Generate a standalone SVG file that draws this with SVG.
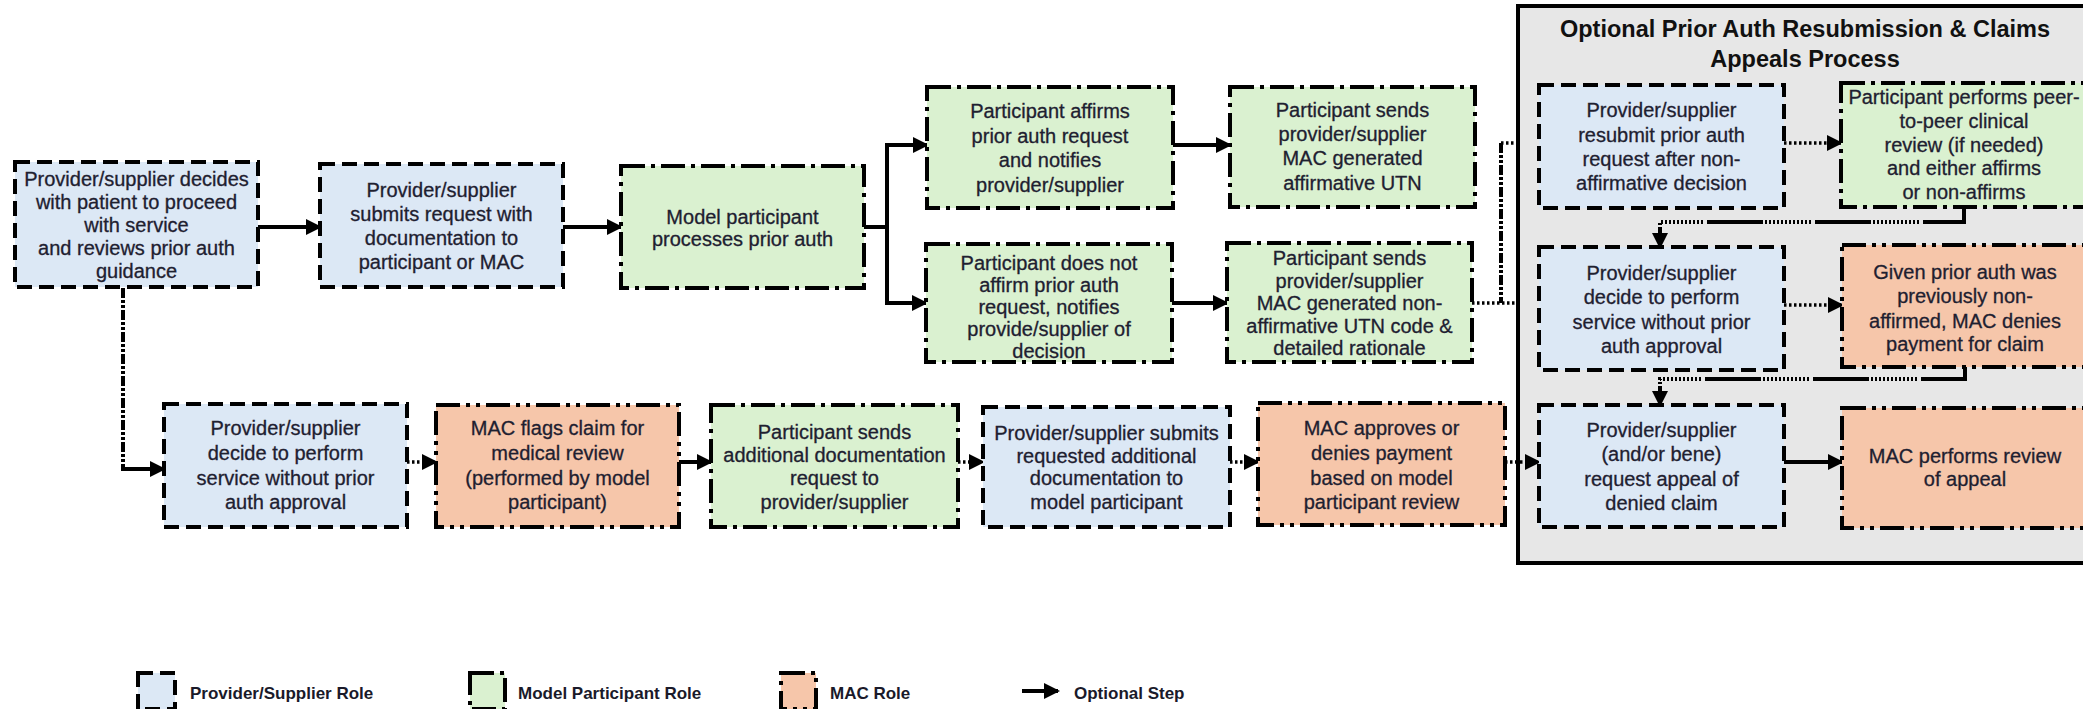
<svg xmlns="http://www.w3.org/2000/svg" width="2083" height="709" viewBox="0 0 2083 709">
<style>
.t{font-family:"Liberation Sans",Arial,sans-serif;font-size:20px;fill:#1e2030;stroke:#1e2030;stroke-width:0.3;text-anchor:middle}
.ttl{font-family:"Liberation Sans",Arial,sans-serif;font-size:23.5px;font-weight:bold;fill:#111;text-anchor:middle}
.lg{font-family:"Liberation Sans",Arial,sans-serif;font-size:17px;font-weight:bold;fill:#1a1a2a}
.pv{fill:#dce8f5;stroke:#000;stroke-width:4;stroke-dasharray:15 7}
.mp{fill:#daf1d0;stroke:#000;stroke-width:4;stroke-dasharray:24 6 4 6}
.mac{fill:#f6c6aa;stroke:#000;stroke-width:4;stroke-dasharray:24 6 4 6 4 6}
.solid{fill:none;stroke:#000;stroke-width:4}
.dot{fill:none;stroke:#000;stroke-width:3.5;stroke-dasharray:2.5 2.5}
.comp{fill:none;stroke:#000;stroke-width:4;stroke-dasharray:2 2 2 2 2 2 2 2 2 2 2 2 2 2 2 2 2 2 2 2 2 2 2 2 56 4;stroke-dashoffset:48}
.vdd{fill:none;stroke:#000;stroke-width:4;stroke-dasharray:10 2 3 2 3 2}
</style>
<defs>
<marker id="ah" markerUnits="userSpaceOnUse" markerWidth="16" markerHeight="16" refX="14" refY="8" orient="auto">
<path d="M0,0 L16,8 L0,16 z" fill="#000" stroke="none"/>
</marker>
</defs>

<g id="appeals-box">
<rect x="1518" y="6" width="590" height="557" fill="#e7e7e7" stroke="#000" stroke-width="4"/>
<text class="ttl" x="1805" y="37">Optional Prior Auth Resubmission &amp; Claims</text>
<text class="ttl" x="1805" y="67">Appeals Process</text>
</g>

<g id="connectors">
<path class="solid" d="M258,227 H320" marker-end="url(#ah)"/>
<path class="solid" d="M563,227 H621" marker-end="url(#ah)"/>
<path class="solid" d="M864,227 H887 V145 H927" marker-end="url(#ah)"/>
<path class="solid" d="M887,227 V303 H926" marker-end="url(#ah)"/>
<path class="solid" d="M1173,145 H1230" marker-end="url(#ah)"/>
<path class="solid" d="M1172,303 H1227" marker-end="url(#ah)"/>
<path class="dot" d="M1472,303 H1518"/>
<path class="vdd" d="M1501,143 V303"/>
<path class="dot" d="M1501,143 H1518"/>
<path class="dot" d="M1784,143 H1841" marker-end="url(#ah)"/>
<path class="comp" d="M1964,207 V222 H1660 V247" marker-end="url(#ah)"/>
<path class="dot" d="M1784,305 H1842" marker-end="url(#ah)"/>
<path class="comp" d="M1965,367 V379 H1660 V405" marker-end="url(#ah)"/>
<path class="solid" d="M1784,462 H1842" marker-end="url(#ah)"/>
<path class="vdd" d="M123,288 V469"/>
<path class="solid" d="M121,469 H164" marker-end="url(#ah)"/>
<path class="dot" d="M407,462 H436" marker-end="url(#ah)"/>
<path class="solid" d="M679,462 H711" marker-end="url(#ah)"/>
<path class="dot" d="M958,462 H983" marker-end="url(#ah)"/>
<path class="dot" d="M1230,462 H1258" marker-end="url(#ah)"/>
<path class="dot" d="M1505,462 H1539" marker-end="url(#ah)"/>
</g>

<g id="node-a"><rect class="pv" x="15" y="162" width="243" height="125"/>
<text class="t"><tspan x="136.5" y="186">Provider/supplier decides</tspan><tspan x="136.5" y="209">with patient to proceed</tspan><tspan x="136.5" y="232">with service</tspan><tspan x="136.5" y="255">and reviews prior auth</tspan><tspan x="136.5" y="278">guidance</tspan></text></g>

<g id="node-b"><rect class="pv" x="320" y="164" width="243" height="123"/>
<text class="t"><tspan x="441.5" y="197">Provider/supplier</tspan><tspan x="441.5" y="221">submits request with</tspan><tspan x="441.5" y="245">documentation to</tspan><tspan x="441.5" y="269">participant or MAC</tspan></text></g>

<g id="node-c"><rect class="mp" x="621" y="166" width="243" height="122"/>
<text class="t"><tspan x="742.5" y="224">Model participant</tspan><tspan x="742.5" y="246">processes prior auth</tspan></text></g>

<g id="node-d"><rect class="mp" x="927" y="87" width="246" height="121"/>
<text class="t"><tspan x="1050" y="118">Participant affirms</tspan><tspan x="1050" y="143">prior auth request</tspan><tspan x="1050" y="167">and notifies</tspan><tspan x="1050" y="192">provider/supplier</tspan></text></g>

<g id="node-e"><rect class="mp" x="926" y="244" width="246" height="118"/>
<text class="t"><tspan x="1049" y="270">Participant does not</tspan><tspan x="1049" y="292">affirm prior auth</tspan><tspan x="1049" y="314">request, notifies</tspan><tspan x="1049" y="336">provide/supplier of</tspan><tspan x="1049" y="358">decision</tspan></text></g>

<g id="node-f"><rect class="mp" x="1230" y="87" width="245" height="120"/>
<text class="t"><tspan x="1352.5" y="117">Participant sends</tspan><tspan x="1352.5" y="141">provider/supplier</tspan><tspan x="1352.5" y="165">MAC generated</tspan><tspan x="1352.5" y="190">affirmative UTN</tspan></text></g>

<g id="node-g"><rect class="mp" x="1227" y="243" width="245" height="119"/>
<text class="t"><tspan x="1349.5" y="265">Participant sends</tspan><tspan x="1349.5" y="288">provider/supplier</tspan><tspan x="1349.5" y="310">MAC generated non-</tspan><tspan x="1349.5" y="333">affirmative UTN code &amp;</tspan><tspan x="1349.5" y="355">detailed rationale</tspan></text></g>

<g id="node-h"><rect class="pv" x="1539" y="85" width="245" height="123"/>
<text class="t"><tspan x="1661.5" y="117">Provider/supplier</tspan><tspan x="1661.5" y="142">resubmit prior auth</tspan><tspan x="1661.5" y="166">request after non-</tspan><tspan x="1661.5" y="190">affirmative decision</tspan></text></g>

<g id="node-i"><rect class="mp" x="1841" y="83" width="246" height="124"/>
<text class="t"><tspan x="1964" y="104">Participant performs peer-</tspan><tspan x="1964" y="128">to-peer clinical</tspan><tspan x="1964" y="152">review (if needed)</tspan><tspan x="1964" y="175">and either affirms</tspan><tspan x="1964" y="199">or non-affirms</tspan></text></g>

<g id="node-j"><rect class="pv" x="1539" y="247" width="245" height="123"/>
<text class="t"><tspan x="1661.5" y="280">Provider/supplier</tspan><tspan x="1661.5" y="304">decide to perform</tspan><tspan x="1661.5" y="329">service without prior</tspan><tspan x="1661.5" y="353">auth approval</tspan></text></g>

<g id="node-k"><rect class="mac" x="1842" y="245" width="246" height="122"/>
<text class="t"><tspan x="1965" y="279">Given prior auth was</tspan><tspan x="1965" y="303">previously non-</tspan><tspan x="1965" y="328">affirmed, MAC denies</tspan><tspan x="1965" y="351">payment for claim</tspan></text></g>

<g id="node-l"><rect class="pv" x="1539" y="405" width="245" height="122"/>
<text class="t"><tspan x="1661.5" y="437">Provider/supplier</tspan><tspan x="1661.5" y="461">(and/or bene)</tspan><tspan x="1661.5" y="486">request appeal of</tspan><tspan x="1661.5" y="510">denied claim</tspan></text></g>

<g id="node-m"><rect class="mac" x="1842" y="408" width="246" height="120"/>
<text class="t"><tspan x="1965" y="463">MAC performs review</tspan><tspan x="1965" y="486">of appeal</tspan></text></g>

<g id="node-n"><rect class="pv" x="164" y="404" width="243" height="123"/>
<text class="t"><tspan x="285.5" y="435">Provider/supplier</tspan><tspan x="285.5" y="460">decide to perform</tspan><tspan x="285.5" y="485">service without prior</tspan><tspan x="285.5" y="509">auth approval</tspan></text></g>

<g id="node-o"><rect class="mac" x="436" y="405" width="243" height="122"/>
<text class="t"><tspan x="557.5" y="435">MAC flags claim for</tspan><tspan x="557.5" y="460">medical review</tspan><tspan x="557.5" y="485">(performed by model</tspan><tspan x="557.5" y="509">participant)</tspan></text></g>

<g id="node-p"><rect class="mp" x="711" y="405" width="247" height="122"/>
<text class="t"><tspan x="834.5" y="439">Participant sends</tspan><tspan x="834.5" y="462">additional documentation</tspan><tspan x="834.5" y="485">request to</tspan><tspan x="834.5" y="509">provider/supplier</tspan></text></g>

<g id="node-q"><rect class="pv" x="983" y="407" width="247" height="120"/>
<text class="t"><tspan x="1106.5" y="440">Provider/supplier submits</tspan><tspan x="1106.5" y="463">requested additional</tspan><tspan x="1106.5" y="485">documentation to</tspan><tspan x="1106.5" y="509">model participant</tspan></text></g>

<g id="node-r"><rect class="mac" x="1258" y="403" width="247" height="122"/>
<text class="t"><tspan x="1381.5" y="435">MAC approves or</tspan><tspan x="1381.5" y="460">denies payment</tspan><tspan x="1381.5" y="485">based on model</tspan><tspan x="1381.5" y="509">participant review</tspan></text></g>

<g id="legend">
<rect class="pv" x="138" y="673" width="37" height="36"/>
<text class="lg" x="190" y="699">Provider/Supplier Role</text>
<rect class="mp" x="470" y="673" width="35" height="36"/>
<text class="lg" x="518" y="699">Model Participant Role</text>
<rect class="mac" x="781" y="673" width="35" height="36"/>
<text class="lg" x="830" y="699">MAC Role</text>
<path class="solid" d="M1022,691 H1058" marker-end="url(#ah)"/>
<text class="lg" x="1074" y="699">Optional Step</text>
</g>
</svg>
